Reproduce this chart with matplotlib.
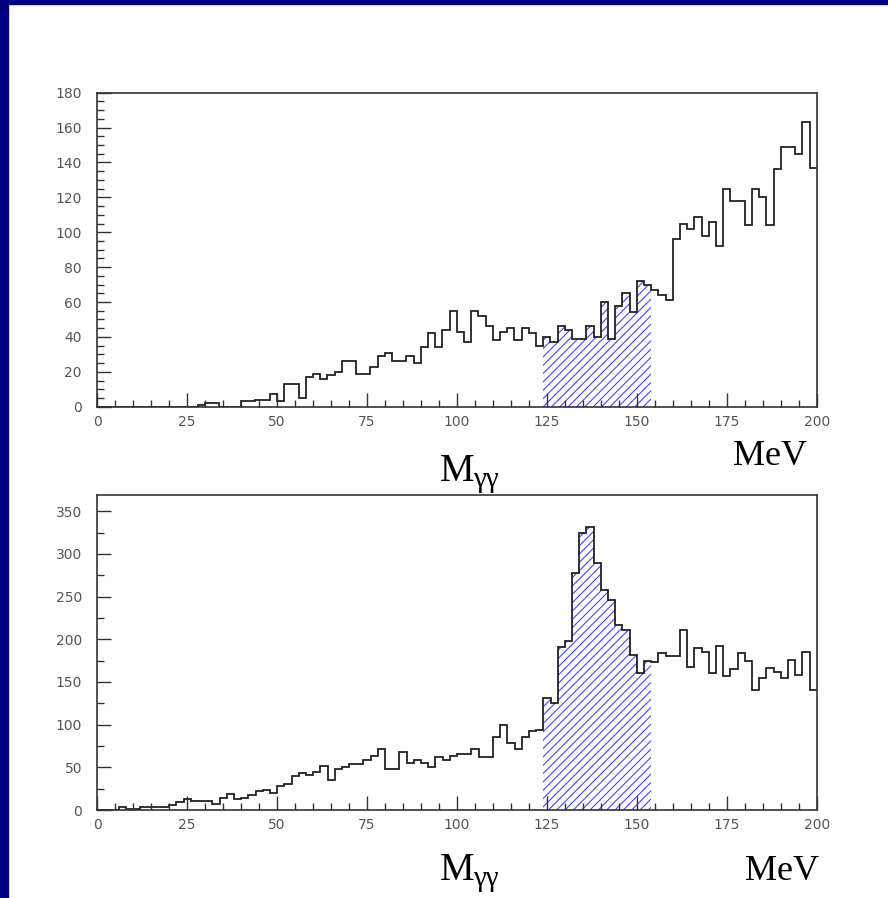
# two-photon invariant mass spectra, signal window hatched
import numpy as np
import matplotlib
matplotlib.use('Agg')
import matplotlib.pyplot as plt
from matplotlib.patches import Rectangle

# bins of 2 MeV from 0 to 200
bin_width = 2
m_min, m_max = 0, 200

# upper spectrum (counts per bin)
top_counts = [
    0, 0, 0, 0, 0, 0, 0, 0, 0, 0,
    0, 0, 0, 0, 1, 2, 2, 0, 0, 0,
    3, 3, 4, 4, 7, 3, 13, 13, 5, 17,
    19, 16, 18, 20, 26, 26, 19, 19, 23, 29,
    31, 26, 26, 29, 25, 34, 42, 34, 44, 55,
    43, 37, 55, 52, 46, 38, 43, 45, 38, 45,
    42, 35, 40, 37, 46, 44, 39, 39, 46, 40,
    60, 39, 58, 65, 54, 72, 70, 67, 64, 61,
    96, 105, 102, 109, 98, 106, 92, 125, 118, 118,
    104, 125, 120, 104, 136, 149, 149, 145, 163, 137,
]

# lower spectrum (counts per bin)
bottom_counts = [
    0, 0, 0, 4, 1, 1, 3, 3, 3, 3,
    6, 9, 13, 10, 10, 11, 7, 14, 19, 13,
    14, 17, 22, 23, 20, 28, 30, 40, 43, 41,
    44, 51, 35, 48, 50, 54, 54, 59, 63, 72,
    48, 48, 68, 55, 59, 55, 50, 62, 59, 63,
    66, 66, 72, 62, 62, 85, 100, 78, 71, 86,
    92, 94, 131, 125, 191, 198, 278, 324, 332, 289,
    258, 246, 217, 211, 182, 160, 174, 173, 184, 180,
    180, 211, 167, 190, 185, 161, 192, 157, 165, 184,
    174, 140, 155, 166, 162, 155, 176, 158, 185, 140,
]

# signal window (MeV)
sig_lo, sig_hi = 124, 154

x_ticks = [0, 25, 50, 75, 100, 125, 150, 175, 200]
top_yticks = [0, 20, 40, 60, 80, 100, 120, 140, 160, 180]
bottom_yticks = [0, 50, 100, 150, 200, 250, 300, 350]

edges = np.arange(m_min, m_max + bin_width, bin_width)

W, H = 888, 898
fig = plt.figure(figsize=(W / 100, H / 100), dpi=100)
fig.patch.set_facecolor('white')

# navy slide border on left and top
fig.patches.append(Rectangle((0, 0), 8 / W, 1, transform=fig.transFigure,
                             color='#000080', zorder=0))
fig.patches.append(Rectangle((0, 1 - 4 / H), 1, 4 / H, transform=fig.transFigure,
                             color='#000080', zorder=0))

plt.rcParams['hatch.linewidth'] = 0.8
hatch_col = '#4646ff'


def draw_panel(rect, counts, ylim, yticks, yminor):
    ax = fig.add_axes(rect)
    counts = np.array(counts, dtype=float)
    lo = int((sig_lo - m_min) / bin_width)
    hi = int((sig_hi - m_min) / bin_width)
    ax.stairs(counts[lo:hi], edges[lo:hi + 1], fill=True, hatch='////',
              facecolor='none', edgecolor=hatch_col, linewidth=0)
    ax.stairs(counts, edges, baseline=None, color='#222222', linewidth=1.3)
    ax.set_xlim(m_min, m_max)
    ax.set_ylim(*ylim)
    ax.set_xticks(x_ticks)
    ax.set_xticks(np.arange(m_min, m_max + 1, 5), minor=True)
    ax.set_yticks(yticks)
    ax.set_yticks(np.arange(0, ylim[1] + 0.1, yminor), minor=True)
    ax.tick_params(which='both', direction='in', top=False, right=False,
                   colors='#333333', labelcolor='#555555', labelsize=10, width=1)
    ax.tick_params(axis='x', which='major', length=10, pad=6)
    ax.tick_params(axis='x', which='minor', length=5)
    ax.tick_params(axis='y', which='major', length=10, pad=11)
    ax.tick_params(axis='y', which='minor', length=5)
    for s in ax.spines.values():
        s.set_linewidth(1.2)
        s.set_color('#333333')
    return ax


ax1 = draw_panel([97 / W, 1 - 406.7 / H, (816.7 - 97) / W, (406.7 - 92.7) / H],
                 top_counts, (0, 180), top_yticks, 5)
ax2 = draw_panel([97.3 / W, 1 - 810 / H, (816.7 - 97.3) / W, (810 - 495) / H],
                 bottom_counts, (0, 369), bottom_yticks, 25)

serif = 'Liberation Serif'


def mass_label(x, y):
    fig.text(x / W, 1 - y / H, 'M', family=serif, fontsize=28, va='baseline')
    fig.text((x + 33) / W, 1 - (y + 6) / H, 'γγ', family=serif, fontsize=21,
             va='baseline')


mass_label(440, 481)
fig.text(733 / W, 1 - 465 / H, 'MeV', family=serif, fontsize=26, va='baseline')
mass_label(440, 880)
fig.text(745 / W, 1 - 880 / H, 'MeV', family=serif, fontsize=26, va='baseline')

fig.savefig('out.png', dpi=100)
